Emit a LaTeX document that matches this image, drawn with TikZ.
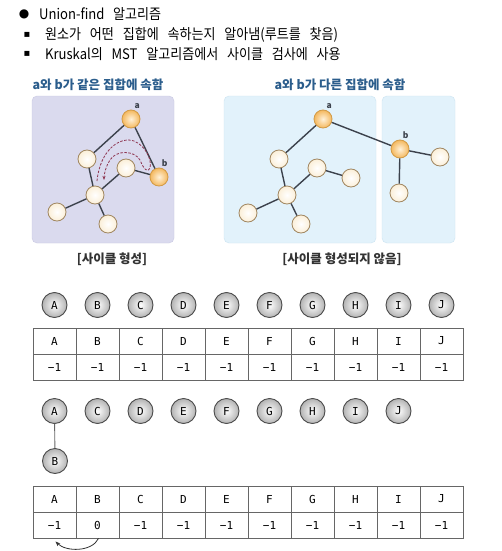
\documentclass[tikz,border=0pt]{standalone}
\usepackage{fontspec}
\setmainfont{Noto Sans CJK KR}
\newfontfamily\headfont{Noto Sans CJK KR}[FakeStretch=0.9, WordSpace=3]
\newfontfamily\monofont{DejaVu Sans Mono}
\newfontfamily\symfont{DejaVu Sans}
\usetikzlibrary{arrows.meta}

\definecolor{titleblue}{HTML}{2B5D8C}
\definecolor{edgegray}{HTML}{3C424C}
\definecolor{nodeline}{HTML}{A08660}
\definecolor{cream}{HTML}{FBEFD8}
\definecolor{orangein}{HTML}{FFF1D8}
\definecolor{orangeout}{HTML}{F4B85E}
\definecolor{orangeline}{HTML}{D29A45}
\definecolor{lavender}{HTML}{DADAEE}
\definecolor{lavline}{HTML}{C9C9E2}
\definecolor{skyfill}{HTML}{E2F2FB}
\definecolor{skyline}{HTML}{CCE4F2}
\definecolor{pathred}{HTML}{8E3550}
\definecolor{tablegray}{HTML}{666666}

\tikzset{
  treeedge/.style={line width=1.4pt, draw=edgegray},
  tnode/.style={circle, minimum size=18pt, inner sep=0pt, draw=nodeline,
    line width=0.8pt, inner color=white, outer color=cream},
  rootnode/.style={tnode, draw=orangeline, inner color=orangein, outer color=orangeout},
  ablabel/.style={font=\bfseries\fontsize{8.5}{8.5}\selectfont, text=edgegray, inner sep=1pt},
  letter/.style={circle, minimum size=25pt, inner sep=0pt, draw=black!70,
    line width=0.9pt, inner color=white, outer color=black!30,
    font=\monofont\fontsize{11}{11}\selectfont},
  cell/.style={rectangle, minimum width=43pt, minimum height=26pt, inner sep=0pt,
    draw=tablegray, line width=0.9pt, font=\monofont\fontsize{11}{11}\selectfont},
  paneltitle/.style={font=\bfseries\fontsize{12.5}{12.5}\selectfont, text=titleblue},
  caption/.style={font=\bfseries\fontsize{12.5}{12.5}\selectfont, text=black!80},
  headtext/.style={anchor=west, inner sep=0pt, font=\headfont\fontsize{14.5}{14.5}\selectfont}
}

\begin{document}
\begin{tikzpicture}[x=1pt, y=-1pt]
\useasboundingbox[fill=white] (0,0) rectangle (501,551);

% header lines
\node[anchor=center, font=\symfont\fontsize{12}{12}\selectfont] (dot1) at (24,14) {●};
\node[headtext] (line1) at (39,14) {Union-find 알고리즘};
\node[anchor=center, font=\symfont\fontsize{10}{10}\selectfont] (sq1) at (27,35) {▪};
\node[headtext] (line2) at (45,35) {원소가 어떤 집합에 속하는지 알아냄(루트를 찾음)};
\node[anchor=center, font=\symfont\fontsize{10}{10}\selectfont] (sq2) at (27,54) {▪};
\node[headtext] (line3) at (45,54) {Kruskal의 MST 알고리즘에서 사이클 검사에 사용};

% left panel: same set
\node[paneltitle] (ltitle) at (98,85) {a와 b가 같은 집합에 속함};
\filldraw[fill=lavender, draw=lavline, rounded corners=5pt] (32,96) rectangle (174,243);
\node[rootnode, label={[ablabel]75:a}] (la) at (131,119) {};
\node[rootnode, label={[ablabel]80:b}] (lb) at (159,177) {};
\node[tnode] (l1) at (87,159) {};
\node[tnode] (l2) at (126,168) {};
\node[tnode] (l3) at (95,195) {};
\node[tnode] (l4) at (57,212) {};
\node[tnode] (l5) at (108,224) {};
\draw[treeedge] (la) -- (l1);
\draw[treeedge] (la) -- (lb);
\draw[treeedge] (lb) -- (l2);
\draw[treeedge] (l2) -- (l3);
\draw[treeedge] (l1) -- (l3);
\draw[treeedge] (l3) -- (l4);
\draw[treeedge] (l3) -- (l5);
\draw[pathred, dashed, line width=0.8pt, dash pattern=on 2.5pt off 1.5pt, -{Stealth[length=4pt]}]
  (97,181) .. controls (100,150) and (120,136) .. (134,141)
  .. controls (146,146) and (152,160) .. (150,168)
  .. controls (148,173) and (144,170) .. (140,160)
  .. controls (134,150) and (116,150) .. (110,160)
  .. controls (106,166) and (104,174) .. (104,180);
\node[caption] (lcap) at (112,259) {[사이클 형성]};

% right panel: different sets
\node[paneltitle] (rtitle) at (340,85) {a와 b가 다른 집합에 속함};
\filldraw[fill=skyfill, draw=skyline, rounded corners=5pt] (224,96) rectangle (376,243);
\filldraw[fill=skyfill, draw=skyline, rounded corners=5pt] (382,96) rectangle (455,243);
\node[rootnode, label={[ablabel]75:a}] (ra) at (323,119) {};
\node[rootnode, label={[ablabel]80:b}] (rb) at (400,149) {};
\node[tnode] (rb1) at (440,157) {};
\node[tnode] (rb2) at (399,193) {};
\node[tnode] (r1) at (279,159) {};
\node[tnode] (r2) at (317,168) {};
\node[tnode] (r6) at (351,178) {};
\node[tnode] (r3) at (287,195) {};
\node[tnode] (r4) at (248,213) {};
\node[tnode] (r5) at (301,224) {};
\draw[treeedge] (ra) -- (r1);
\draw[treeedge] (ra) -- (rb);
\draw[treeedge] (rb) -- (rb1);
\draw[treeedge] (rb) -- (rb2);
\draw[treeedge] (r1) -- (r3);
\draw[treeedge] (r3) -- (r2);
\draw[treeedge] (r2) -- (r6);
\draw[treeedge] (r3) -- (r4);
\draw[treeedge] (r3) -- (r5);
\node[caption] (rcap) at (342,259) {[사이클 형성되지 않음]};

% first state: every element is its own root
\foreach \n [count=\i from 0] in {A,B,C,D,E,F,G,H,I,J} {
  \node[letter] (p\n) at (54.5+43*\i,305) {\n};
  \node[cell] (k\n) at (54.5+43*\i,341) {\n};
  \node[cell] (v\n) at (54.5+43*\i,367) {−1};
}

% second state: B joined under A
\foreach \n [count=\i from 0] in {A,C,D,E,F,G,H,I,J} {
  \node[letter] (q\n) at (54.5+43*\i,411) {\n};
}
\node[letter] (qB) at (55,461) {B};
\draw[tablegray, line width=0.9pt] (qA) -- (qB);
\foreach \n/\val [count=\i from 0] in {A/−1,B/0,C/−1,D/−1,E/−1,F/−1,G/−1,H/−1,I/−1,J/−1} {
  \node[cell] (m\n) at (54.5+43*\i,499) {\n};
  \node[cell] (w\n) at (54.5+43*\i,525) {\val};
}
\draw[black!80, line width=0.8pt, -{Stealth[length=5pt]}]
  ([xshift=1pt]wB.south) .. controls (92,552) and (66,552) .. ([xshift=1pt,yshift=-3pt]wA.south);
\end{tikzpicture}
\end{document}
